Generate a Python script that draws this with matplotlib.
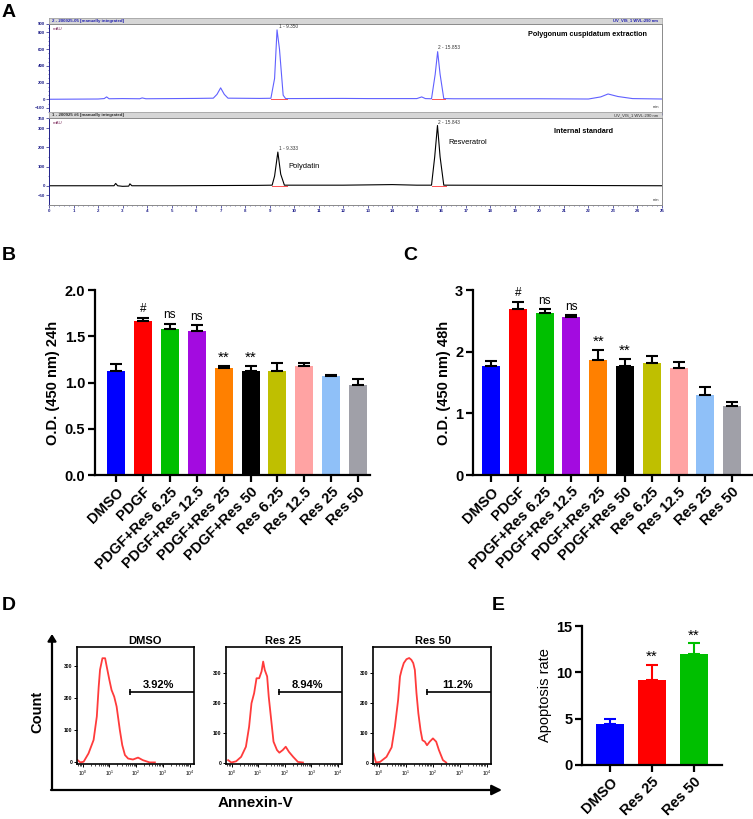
import numpy as np
import matplotlib
matplotlib.use("Agg")
import matplotlib.pyplot as plt

plt.rcParams['font.family'] = ['Liberation Sans', 'DejaVu Sans']
plt.rcParams['mathtext.fontset'] = 'custom'
plt.rcParams['mathtext.rm'] = 'Liberation Sans'
plt.rcParams['mathtext.bf'] = 'Liberation Sans:bold'

W, H = 753, 819

# ---- Panel A: chromatograms (time in min, signal in mAU) ----
t_ext = [0.0, 2.0, 2.25, 2.35, 2.45, 3.0, 3.7, 3.8, 3.95, 5.0, 6.0, 6.7, 6.85, 7.0, 7.15, 7.3,
         8.6, 9.05, 9.2, 9.3, 9.4, 9.55, 9.65, 12.0, 13.0, 15.0, 15.2, 15.35, 15.6, 15.75,
         15.85, 15.95, 16.1, 16.5, 20.0, 22.0, 22.5, 22.8, 23.2, 23.8, 25.0]
mau_ext = [2, 5, 10, 30, 8, 10, 8, 18, 8, 10, 12, 15, 60, 138, 60, 15,
           12, 14, 250, 830, 600, 50, 10, 12, 10, 10, 30, 10, 8, 300,
           570, 300, 10, 8, 8, 5, 30, 65, 35, 10, 5]

t_std = [0.0, 2.65, 2.72, 2.8, 3.0, 3.25, 3.3, 3.38, 5.0, 8.5, 9.1, 9.2, 9.333, 9.45, 9.6,
         12.0, 14.0, 15.0, 15.6, 15.73, 15.843, 15.95, 16.1, 20.0, 25.0]
mau_std = [0, 0, 12, 0, -3, -2, 10, 0, 0, 2, 3, 50, 175, 60, 3,
           3, 6, 3, 3, 150, 313, 150, 3, 2, 0]

peaks_ext = [(9.350, 830, "1 - 9.350"), (15.853, 580, "2 - 15.853")]
peaks_std = [(9.333, 175, "1 - 9.333"), (15.843, 313, "2 - 15.843")]
base_ext = [(9.05, 9.7), (15.6, 16.15)]
base_std = [(9.1, 9.7), (15.6, 16.2)]

# ---- Panels B and C: CCK-8 O.D. ----
groups = ["DMSO", "PDGF", "PDGF+Res 6.25", "PDGF+Res 12.5", "PDGF+Res 25",
          "PDGF+Res 50", "Res 6.25", "Res 12.5", "Res 25", "Res 50"]
bar_colors = ["#0000FF", "#FF0000", "#00BF00", "#A30BE0", "#FF8000",
              "#000000", "#BFBF00", "#FFA3A3", "#8FC0F8", "#A0A0A8"]
od_24h = [1.124, 1.665, 1.578, 1.553, 1.157, 1.124, 1.124, 1.178, 1.07, 0.973]
sd_24h = [0.072, 0.035, 0.058, 0.067, 0.023, 0.054, 0.090, 0.036, 0.010, 0.067]
od_48h = [1.77, 2.69, 2.63, 2.56, 1.86, 1.77, 1.81, 1.73, 1.29, 1.12]
sd_48h = [0.08, 0.12, 0.06, 0.03, 0.17, 0.11, 0.12, 0.11, 0.13, 0.06]
marks = ["", "#", "ns", "ns", "**", "**", "", "", "", ""]

# ---- Panel D: flow histograms (log10 Annexin-V, count) ----
dmso_log = [-0.185, -0.086, 0.037, 0.22, 0.41, 0.53, 0.60, 0.65, 0.74, 0.84, 0.90, 1.00,
            1.08, 1.18, 1.27, 1.39, 1.48, 1.58, 1.70, 1.88, 2.07, 2.25, 2.50, 2.70]
dmso_cnt = [7, 0, 2, 28, 70, 143, 236, 289, 325, 325, 299, 257,
            226, 205, 174, 101, 54, 23, 12, 9, 15, 7, 0, 0]
res25_log = [-0.13, -0.01, 0.17, 0.36, 0.54, 0.66, 0.75, 0.85, 0.94, 1.04, 1.13, 1.19,
             1.25, 1.34, 1.40, 1.48, 1.58, 1.71, 1.80, 1.93, 2.04, 2.16, 2.32, 2.50, 2.69]
res25_cnt = [8, 0, 4, 19, 53, 120, 199, 233, 283, 283, 306, 339,
             311, 289, 221, 154, 70, 42, 33, 42, 53, 36, 19, 2, 0]
res50_log = [-0.19, -0.10, 0.05, 0.29, 0.48, 0.60, 0.72, 0.79, 0.85, 0.93, 1.03, 1.13, 1.21,
             1.28, 1.34, 1.40, 1.47, 1.55, 1.62, 1.71, 1.79, 1.89, 2.01, 2.13, 2.23, 2.38, 2.50]
res50_cnt = [30, 0, 2, 19, 51, 120, 210, 289, 311, 334, 347, 351, 345,
             334, 311, 233, 165, 109, 75, 70, 58, 70, 81, 70, 42, 8, 0]
hist_titles = ["DMSO", "Res 25", "Res 50"]
gate_pct = ["3.92%", "8.94%", "11.2%"]

# ---- Panel E: apoptosis rate ----
apo_groups = ["DMSO", "Res 25", "Res 50"]
apo_rate = [4.39, 9.17, 11.94]
apo_sd = [0.54, 1.63, 1.19]
apo_marks = ["", "**", "**"]

fig = plt.figure(figsize=(W / 100, H / 100), dpi=100)


def box(l, t, r, b):
    return fig.add_axes([l / W, 1 - b / H, (r - l) / W, (b - t) / H])


def ptext(x, y, s, **kw):
    fig.text(x / W, 1 - y / H, s, **kw)


# ================= A =================
def chrom_axes(t, b, ylim, yticks, head_left, head_col):
    hd = box(49, t - 6, 662, t)
    hd.set_facecolor("#d6d6d6")
    hd.set_xticks([])
    hd.set_yticks([])
    for s in hd.spines.values():
        s.set_color("#9a9a9a")
        s.set_linewidth(0.5)
    hd.text(0.005, 0.5, head_left, fontsize=3.2, color=head_col, fontweight="bold",
            va="center", ha="left", transform=hd.transAxes)
    ax = box(49, t, 662, b)
    ax.set_xlim(0, 25)
    ax.set_ylim(*ylim)
    ax.set_yticks(yticks)
    ax.set_xticks(np.arange(0, 26, 1.0))
    ax.set_xticks(np.arange(0, 25.01, 0.2), minor=True)
    ax.tick_params(axis="both", which="major", labelsize=3.2, length=2, width=0.5,
                   colors="#20208a", pad=1)
    ax.tick_params(axis="both", which="minor", length=1, width=0.4, colors="#20208a")
    ax.set_yticks(np.arange(ylim[0] // 50 * 50, ylim[1], 50), minor=True)
    for lab in ax.get_yticklabels() + ax.get_xticklabels():
        lab.set_fontweight("bold")
    for s in ax.spines.values():
        s.set_color("#8a8a8a")
        s.set_linewidth(0.7)
    ax.spines["left"].set_color("#20208a")
    ax.text(0.006, 0.97, "mAU", fontsize=3.2, color="#803060", va="top",
            transform=ax.transAxes)
    ax.text(0.995, 0.03, "min", fontsize=3.0, color="#303030", va="bottom", ha="right",
            transform=ax.transAxes)
    return ax


axA1 = chrom_axes(24, 112, (-115, 900), [-100, 0, 200, 400, 600, 800, 900],
                  "2 - 200925-05 [manually integrated]", "#2020b0")
axA1.tick_params(axis="x", labelbottom=False)
axA1.plot(t_ext, mau_ext, color="#6060FF", lw=0.8)
for a, b in base_ext:
    axA1.plot([a, b], [0, 0], color="#FF5050", lw=0.7)
for x, y, s in peaks_ext:
    axA1.text(x + 0.03, y + 15, s, fontsize=3.4, color="#333333", va="bottom")
axA1.text(0.975, 0.88, "Polygonum cuspidatum extraction", fontsize=5.2, fontweight="bold",
          ha="right", va="center", transform=axA1.transAxes)

axA2 = chrom_axes(118, 205, (-53, 352), [-50, 0, 100, 200, 300, 350],
                  "1 - 200925 #6 [manually integrated]", "#303030")
axA2.plot(t_std, mau_std, color="#000000", lw=0.8)
for a, b in base_std:
    axA2.plot([a, b], [0, 0], color="#FF5050", lw=0.7)
for x, y, s in peaks_std:
    axA2.text(x + 0.03, y + 5, s, fontsize=3.4, color="#333333", va="bottom")
axA2.text(0.92, 0.85, "Internal standard", fontsize=5.2, fontweight="bold",
          ha="right", va="center", transform=axA2.transAxes)
axA2.text(9.75, 100, "Polydatin", fontsize=5.4, ha="left", va="center")
axA2.text(16.3, 225, "Resveratrol", fontsize=5.4, ha="left", va="center")

ptext(658, 20, "UV_VIS_1 WVL:290 nm", fontsize=3.0, color="#2020b0", fontweight="bold",
      ha="right", va="center")
ptext(658, 115, "UV_VIS_1 WVL:290 nm", fontsize=3.0, color="#303030", ha="right", va="center")


# ================= B, C, E =================
def style_bar_axes(ax):
    for s in ["top", "right"]:
        ax.spines[s].set_visible(False)
    for s in ["left", "bottom"]:
        ax.spines[s].set_linewidth(1.6)
    ax.tick_params(axis="both", direction="out", length=5, width=1.6, labelsize=10.5, pad=2)
    for lab in ax.get_yticklabels():
        lab.set_fontweight("bold")


def bar_panel(ax, vals, sds, colors, labels, marks_, ylim, yticks, fmt, ylabel, off,
              xlim, colored_err=False, ylabel_weight="bold"):
    x = np.arange(len(vals))
    ax.bar(x, vals, width=0.67, color=colors, zorder=2)
    for i in range(len(vals)):
        ax.errorbar(x[i], vals[i], yerr=[[0], [sds[i]]], fmt="none",
                    ecolor=colors[i] if colored_err else "k", elinewidth=1.5,
                    capsize=4, capthick=1.5, zorder=3)
        if marks_[i]:
            star = marks_[i] == "**"
            ax.text(x[i], vals[i] + sds[i] + (off * 0.4 if star else off), marks_[i],
                    ha="center", va="bottom", fontsize=11 if star else 8.5)
    ax.set_xlim(*xlim)
    ax.set_ylim(*ylim)
    ax.set_yticks(yticks)
    ax.set_yticklabels([fmt % v for v in yticks])
    ax.set_xticks(x)
    ax.set_xticklabels(labels, rotation=45, ha="right", rotation_mode="anchor",
                       fontsize=9.8, fontweight="bold")
    ax.set_ylabel(ylabel, fontsize=10.5, fontweight=ylabel_weight, labelpad=3)
    style_bar_axes(ax)
    ax.spines["left"].set_bounds(ylim[0], ylim[1])


axB = box(95, 290, 370, 475)
bar_panel(axB, od_24h, sd_24h, bar_colors, groups, marks, (0, 2.0),
          [0, 0.5, 1.0, 1.5, 2.0], "%.1f", "O.D. (450 nm) 24h", 0.025, (-0.78, 9.44))

axC = box(473, 290, 752, 475)
bar_panel(axC, od_48h, sd_48h, bar_colors, groups, marks, (0, 3.0),
          [0, 1, 2, 3], "%d", "O.D. (450 nm) 48h", 0.04, (-0.67, 9.74))

axE = box(582, 626, 722, 765)
bar_panel(axE, apo_rate, apo_sd, bar_colors[:3], apo_groups, apo_marks, (0, 15),
          [0, 5, 10, 15], "%d", "Apoptosis rate", 0.25, (-0.67, 2.67),
          colored_err=True, ylabel_weight="normal")

# ================= D =================
hist_boxes = [(77, 194), (226, 342), (373, 491)]
hist_logs = [dmso_log, res25_log, res50_log]
hist_cnts = [dmso_cnt, res25_cnt, res50_cnt]
hist_ylims = [(-5, 360), (-5, 388), (-5, 388)]
gate_start = [1.76, 1.77, 1.79]
gate_level = [221, 238, 238]
pct_pos = [(2.84, 241), (2.87, 260), (2.93, 260)]
title_x = [145, 283, 433]

for k in range(3):
    l, r = hist_boxes[k]
    ax = box(l, 647, r, 764)
    ax.set_xscale("log")
    ax.set_xlim(10 ** -0.21, 10 ** 4.16)
    ax.set_ylim(*hist_ylims[k])
    ax.plot(10 ** np.array(hist_logs[k]), hist_cnts[k], color="#FF3B3B", lw=1.3)
    ax.plot([10 ** gate_start[k], 10 ** 4.16], [gate_level[k]] * 2, color="k", lw=1.2)
    ax.plot([10 ** gate_start[k]], [gate_level[k]], marker="|", color="k", ms=5, mew=1.2)
    ax.text(10 ** pct_pos[k][0], pct_pos[k][1], gate_pct[k], ha="center", va="center",
            fontsize=8, fontweight="bold")
    ax.set_yticks([0, 100, 200, 300])
    ax.set_xticks([1, 10, 100, 1000, 10000])
    ax.tick_params(axis="both", which="major", labelsize=3.6, length=2, width=0.7, pad=1.5)
    ax.tick_params(axis="x", which="minor", length=1.2, width=0.5)
    for lab in ax.get_yticklabels():
        lab.set_fontweight("bold")
    for s in ax.spines.values():
        s.set_linewidth(1.2)
    ptext(title_x[k], 641, hist_titles[k], fontsize=8, fontweight="bold",
          ha="center", va="center")

fig.add_artist(matplotlib.patches.FancyArrowPatch(
    (52, H - 790), (52, H - 634), transform=None, arrowstyle="-|>,head_length=4,head_width=2.5",
    lw=1.6, color="k", shrinkA=0, shrinkB=0))
fig.add_artist(matplotlib.patches.FancyArrowPatch(
    (51, H - 790), (502, H - 790), transform=None, arrowstyle="-|>,head_length=6,head_width=3",
    lw=1.6, color="k", shrinkA=0, shrinkB=0))
ptext(37, 712, "Count", fontsize=10.5, fontweight="bold", rotation=90, ha="center", va="center")
ptext(256, 803, "Annexin-V", fontsize=11, fontweight="bold", ha="center", va="center")

# ================= panel letters =================
for s, x, y in [("A", 2, 4), ("B", 2, 247), ("C", 403, 247), ("D", 2, 597), ("E", 492, 597)]:
    ptext(x, y, s, fontsize=14, fontweight="bold", ha="left", va="top")

fig.savefig("out.png", dpi=100)
